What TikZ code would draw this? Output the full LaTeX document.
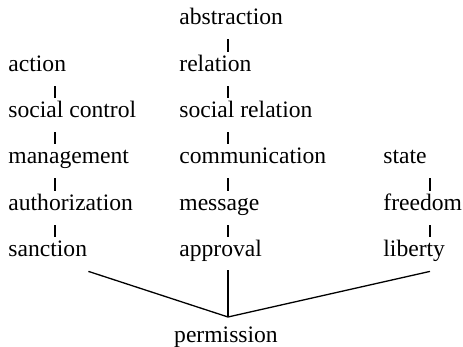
\documentclass[tikz,border=0pt]{standalone}
\usepackage{fontspec}
\setmainfont{Liberation Serif}
\usetikzlibrary{positioning,calc}

\tikzset{
  word/.style={anchor=base west,inner sep=0pt,text height=10pt,text depth=2.5pt,
    font=\fontsize{11.8}{14}\selectfont},
  link/.style={line width=0.65pt,shorten <=4.5pt},
  branch/.style={line width=0.65pt}
}

\begin{document}
\begin{tikzpicture}[x=0.5pt,y=-0.5pt]
\useasboundingbox (0,0) rectangle (463,347);
% columns
\coordinate (lx) at (55,0);
\coordinate (mx) at (228,0);
\coordinate (rx) at (430,0);
% left chain
\node [word] (act) at (8,72) {action};
\node [word] (soc) at (8,118) {social control};
\node [word] (man) at (8,164) {management};
\node [word] (aut) at (8,211) {authorization};
\node [word] (san) at (8,257) {sanction};
% middle chain
\node [word] (abs) at (179,25) {abstraction};
\node [word] (rel) at (179,72) {relation};
\node [word] (srel) at (179,118) {social relation};
\node [word] (com) at (179,164) {communication};
\node [word] (mes) at (179,211) {message};
\node [word] (app) at (179,257) {approval};
% right chain
\node [word] (sta) at (383,164) {state};
\node [word] (fre) at (383,211) {freedom};
\node [word] (lib) at (383,257) {liberty};
% bottom
\node [word,anchor=base] (per) at (226,343) {permission};
\coordinate (meet) at (228,317);

\draw [link] (act.south -| lx) -- (soc.north -| lx);
\draw [link] (soc.south -| lx) -- (man.north -| lx);
\draw [link] (man.south -| lx) -- (aut.north -| lx);
\draw [link] (aut.south -| lx) -- (san.north -| lx);
\draw [link] (abs.south -| mx) -- (rel.north -| mx);
\draw [link] (rel.south -| mx) -- (srel.north -| mx);
\draw [link] (srel.south -| mx) -- (com.north -| mx);
\draw [link] (com.south -| mx) -- (mes.north -| mx);
\draw [link] (mes.south -| mx) -- (app.north -| mx);
\draw [link] (sta.south -| rx) -- (fre.north -| rx);
\draw [link] (fre.south -| rx) -- (lib.north -| rx);

\draw [branch] ($(san.south east)+(1,9)$) -- (meet);
\draw [branch] ($(app.south -| mx)+(0,8)$) -- (meet);
\draw [branch] ($(lib.south -| rx)+(0,9)$) -- (meet);
\end{tikzpicture}
\end{document}
